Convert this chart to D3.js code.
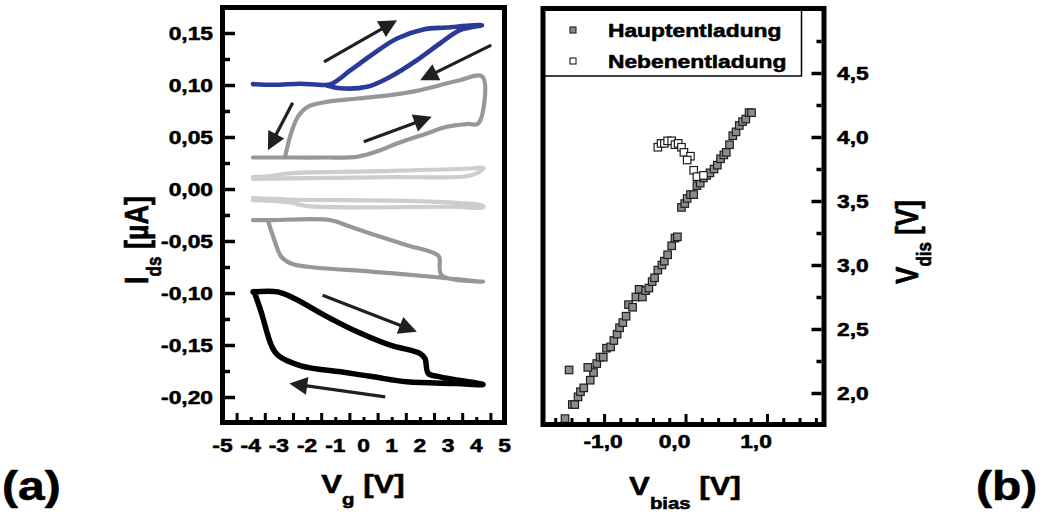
<!DOCTYPE html>
<html>
<head>
<meta charset="utf-8">
<script src="https://cdn.jsdelivr.net/npm/d3@7"></script>
<style>
  html, body { margin: 0; padding: 0; background: #fff; }
  svg { display: block; }
  text { font-family: "Liberation Sans", Arial, Helvetica, sans-serif; font-weight: bold; fill: #000;
         stroke: #000; stroke-width: 0.55px; stroke-linejoin: round; }
</style>
</head>
<body>
<svg id="fig" width="1046" height="516"></svg>
<script>
// ---------- Panel (a): drain current vs. gate voltage ----------
const gateTicks = [-5, -4, -3, -2, -1, 0, 1, 2, 3, 4, 5];
const gateTickLabels = ["-5", "-4", "-3", "-2", "-1", "0", "1", "2", "3", "4", "5"];
const gateHalfTicks = [-4.5, -3.5, -2.5, -1.5, -0.5, 0.5, 1.5, 2.5, 3.5, 4.5];
const currentTicks = [-0.20, -0.15, -0.10, -0.05, 0.00, 0.05, 0.10, 0.15];
const currentTickLabels = ["-0,20", "-0,15", "-0,10", "-0,05", "0,00", "0,05", "0,10", "0,15"];
const currentMinorTicks = [-0.175, -0.125, -0.075, -0.025, 0.025, 0.075, 0.125];

// hysteresis loops, [V_g, I_ds in µA]
const loopBlue = [[-3.92, 0.1008], [-3.16, 0.1002], [-2.22, 0.1012], [-1.6, 0.1002], [-1.16, 0.1008],
  [-0.46, 0.1142], [0.36, 0.1303], [1.19, 0.1447], [2.12, 0.1534], [2.95, 0.1553], [4.2, 0.1575],
  [3.42, 0.1527], [2.71, 0.1399], [1.89, 0.1238], [0.95, 0.1079], [0.13, 0.0983], [-0.81, 0.0968], [-1.3, 0.0995]];
const loopGrayUpper = [[-3.92, 0.0303], [-3.2, 0.0303], [-2.81, 0.0303], [-1.4, 0.0303], [-0.22, 0.0310],
  [0.6, 0.0373], [1.19, 0.0438], [2.24, 0.0534], [2.95, 0.0598], [3.7, 0.0625], [4.07, 0.0630],
  [4.22, 0.1080], [3.42, 0.1046], [2.71, 0.0998], [1.89, 0.0944], [0.95, 0.0902], [-0.22, 0.0870],
  [-1.28, 0.0838], [-1.98, 0.0790], [-2.33, 0.0694], [-2.57, 0.0534], [-2.78, 0.0310]];
const loopLightUpper = [[-3.92, 0.0098], [-2.0, 0.0104], [1.0, 0.0115], [3.78, 0.0130], [4.25, 0.0195],
  [4.25, 0.0205], [3.78, 0.0197], [1.0, 0.0175], [-2.01, 0.0159], [-2.72, 0.0149], [-3.3, 0.0125], [-3.92, 0.0117]];
const loopLightLower = [[-3.92, -0.0088], [-2.69, -0.0101], [1.54, -0.0114], [3.30, -0.0133], [4.24, -0.0162],
  [4.24, -0.0178], [3.30, -0.0171], [-1.98, -0.0165], [-2.6, -0.0130], [-3.92, -0.0107]];
const loopGrayLower = [[-3.92, -0.0300], [-3.39, -0.0300], [-1.16, -0.0300], [-0.46, -0.0364], [0.6, -0.0460],
  [1.54, -0.0540], [2.48, -0.0614], [2.68, -0.0650], [2.77, -0.0829], [4.24, -0.0892], [2.71, -0.0851],
  [0.36, -0.0796], [-1.98, -0.0748], [-2.57, -0.0716], [-2.92, -0.0650], [-3.16, -0.0492], [-3.39, -0.0300]];
const loopBlack = [[-3.92, -0.0989], [-3.04, -0.0989], [-2.45, -0.1053], [-1.28, -0.1229], [-0.22, -0.1373],
  [0.95, -0.1502], [2.01, -0.1582], [2.18, -0.1630], [2.30, -0.1774], [2.71, -0.1806], [4.24, -0.1880],
  [3.30, -0.1870], [1.54, -0.1854], [0.36, -0.1806], [-0.81, -0.1758], [-2.22, -0.1700], [-3.04, -0.1598],
  [-3.27, -0.1502], [-3.63, -0.1181], [-3.86, -0.1000]];

// sweep direction arrows, [from V_g, from I_ds, to V_g, to I_ds]
const sweepArrows = [
  [-1.40, 0.1223, 1.19, 0.1623],
  [4.53, 0.1383, 2.01, 0.1046],
  [-2.51, 0.0829, -3.39, 0.0373],
  [0.01, 0.0454, 2.42, 0.0694],
  [-1.45, -0.1021, 1.89, -0.1373],
  [0.77, -0.1998, -2.63, -0.1870]
];

// ---------- Panel (b): discharge voltage vs. bias ----------
const biasTicks = [-1, 0, 1];
const biasTickLabels = ["-1,0", "0,0", "1,0"];
const biasMinorTicks = [-1.6, -1.4, -1.2, -0.8, -0.6, -0.4, -0.2, 0.2, 0.4, 0.6, 0.8, 1.2, 1.4, 1.6];
const dischargeTicks = [2.0, 2.5, 3.0, 3.5, 4.0, 4.5];
const dischargeTickLabels = ["2,0", "2,5", "3,0", "3,5", "4,0", "4,5"];
const dischargeMinorTicks = [2.25, 2.75, 3.25, 3.75, 4.25, 4.75];

const hauptBias = [-1.48, -1.43, -1.39, -1.36, -1.32, -1.29, -1.25, -1.17, -1.13, -1.20, -1.09, -1.05, -1.01,
  -0.97, -0.92, -0.88, -0.84, -0.81, -0.77, -0.73, -0.70, -0.65, -0.61, -0.57, -0.53, -0.49, -0.45, -0.41,
  -0.38, -0.34, -0.29, -0.26, -0.22, -0.17, -0.13, -0.10, -0.05, -0.01, 0.02, 0.06, 0.10, 0.14, 0.18,
  0.22, 0.26, 0.30, 0.35, 0.39, 0.43, 0.47, 0.50, 0.54, 0.58, 0.62, 0.66, 0.70, 0.74, 0.78, 0.81];
const hauptDis = [1.80, 2.18, 1.91, 1.91, 1.97, 2.01, 2.04, 2.10, 2.16, 2.20, 2.23, 2.28, 2.28,
  2.35, 2.36, 2.41, 2.46, 2.51, 2.55, 2.60, 2.69, 2.67, 2.75, 2.81, 2.75, 2.80, 2.82, 2.87,
  2.90, 2.96, 3.00, 3.03, 3.08, 3.15, 3.21, 3.22, 3.45, 3.48, 3.52, 3.55, 3.55, 3.62, 3.64,
  3.68, 3.70, 3.72, 3.75, 3.78, 3.83, 3.86, 3.88, 3.94, 4.01, 4.04, 4.09, 4.12, 4.14, 4.19, 4.19];
const nebenBias = [-0.34, -0.30, -0.26, -0.22, -0.17, -0.13, -0.09, -0.05, -0.02, 0.06, 0.02, 0.10, 0.14, 0.22];
const nebenDis = [3.92, 3.95, 3.95, 3.97, 3.97, 3.94, 3.95, 3.92, 3.88, 3.85, 3.82, 3.74, 3.69, 3.70];
const legendLabels = ["Hauptentladung", "Nebenentladung"];

// ---------- drawing ----------
const SX = 1.2;                       // lettering is set slightly wide
const svg = d3.select("#fig");

const xa = d3.scaleLinear().domain([-5, 5]).range([222.5, 504.5]);
const ya = d3.scaleLinear().domain([-0.225, 0.175]).range([423, 7]);
const xb = d3.scaleLinear().domain([-1.75, 1.7]).range([543, 824]);
const yb = d3.scaleLinear().domain([1.75, 5.0]).range([425, 9]);

function wideText(parent, x, y, str, size, anchor) {
  return parent.append("text")
    .attr("transform", `translate(${x},${y}) scale(${SX},1)`)
    .attr("text-anchor", anchor || "start")
    .style("font-size", size + "px")
    .text(str);
}

function tickAxis(axis, tx, ty, width) {
  const g = svg.append("g").attr("transform", `translate(${tx},${ty})`).call(axis);
  g.select(".domain").remove();
  g.selectAll("line").attr("stroke", "#000").attr("stroke-width", width);
  g.selectAll("text").remove();
  return g;
}

// loops of panel (a)
const lineA = d3.line().x(d => xa(d[0])).y(d => ya(d[1])).curve(d3.curveCatmullRom.alpha(0.5));
const loops = [
  { data: loopLightUpper, color: "#cdcdcd", w: 4.2 },
  { data: loopLightLower, color: "#cdcdcd", w: 4.2 },
  { data: loopGrayUpper, color: "#979797", w: 4.2 },
  { data: loopGrayLower, color: "#979797", w: 4.2 },
  { data: loopBlue, color: "#2a3a98", w: 4.6 },
  { data: loopBlack, color: "#000000", w: 5.5 }
];
loops.forEach(l => {
  svg.append("path").attr("d", lineA(l.data))
    .attr("fill", "none").attr("stroke", l.color).attr("stroke-width", l.w)
    .attr("stroke-linejoin", "round").attr("stroke-linecap", "round");
});

// sweep arrows
sweepArrows.forEach(a => {
  const x0 = xa(a[0]), y0 = ya(a[1]), x1 = xa(a[2]), y1 = ya(a[3]);
  const len = Math.hypot(x1 - x0, y1 - y0);
  const ux = (x1 - x0) / len, uy = (y1 - y0) / len;
  const headL = 18, headW = 9;
  const bx = x1 - ux * headL, by = y1 - uy * headL;
  svg.append("line").attr("x1", x0).attr("y1", y0).attr("x2", bx + ux * 2).attr("y2", by + uy * 2)
    .attr("stroke", "#231f20").attr("stroke-width", 3.2);
  svg.append("path")
    .attr("d", `M${x1},${y1}L${bx - uy * headW},${by + ux * headW}L${bx + uy * headW},${by - ux * headW}Z`)
    .attr("fill", "#231f20");
});

// frame and ticks of panel (a)
svg.append("rect").attr("x", 222.5).attr("y", 7.5).attr("width", 282).attr("height", 415)
  .attr("fill", "none").attr("stroke", "#000").attr("stroke-width", 5);
tickAxis(d3.axisLeft(ya).tickValues(currentTicks).tickSize(-10), 225, 0, 3.5);
tickAxis(d3.axisLeft(ya).tickValues(currentMinorTicks).tickSize(-5), 225, 0, 3.5);
tickAxis(d3.axisBottom(xa).tickValues(gateHalfTicks).tickSize(-7), 0, 420, 3);
tickAxis(d3.axisBottom(xa).tickValues(gateTicks.slice(1, -1)).tickSize(-3), 0, 420, 3);

currentTicks.forEach((v, i) => wideText(svg, 213, ya(v) + 7, currentTickLabels[i], 19, "end"));
gateTicks.forEach((v, i) => wideText(svg, xa(v), 452, gateTickLabels[i], 19, "middle"));

// axis titles of panel (a)
const tg = svg.append("text").attr("transform", `translate(363,493) scale(${SX},1)`)
  .attr("text-anchor", "middle").style("font-size", "26px");
tg.append("tspan").text("V");
tg.append("tspan").attr("dy", 12).style("font-size", "17px").text("g");
tg.append("tspan").attr("dy", -12).text(" [V]");

const ti = svg.append("text").attr("transform", `translate(148,240) rotate(-90) scale(1,${SX})`)
  .attr("text-anchor", "middle").style("font-size", "27px");
ti.append("tspan").text("I");
ti.append("tspan").attr("dy", 11).style("font-size", "17px").text("ds");
ti.append("tspan").attr("dy", -11).text(" [µA]");

wideText(svg, 2, 500, "(a)", 40, "start");

// scatter of panel (b)
const SQ = 7.5;
svg.append("g").selectAll("rect").data(hauptBias.map((b, i) => [b, hauptDis[i]])).join("rect")
  .attr("x", d => xb(d[0]) - SQ / 2).attr("y", d => yb(d[1]) - SQ / 2)
  .attr("width", SQ).attr("height", SQ)
  .attr("fill", "#8c8c8c").attr("stroke", "#1e1e1e").attr("stroke-width", 1.2);
svg.append("g").selectAll("rect").data(nebenBias.map((b, i) => [b, nebenDis[i]])).join("rect")
  .attr("x", d => xb(d[0]) - SQ / 2).attr("y", d => yb(d[1]) - SQ / 2)
  .attr("width", SQ).attr("height", SQ)
  .attr("fill", "#ffffff").attr("stroke", "#1e1e1e").attr("stroke-width", 1.2);

// legend
svg.append("rect").attr("x", 543).attr("y", 8.5).attr("width", 258.5).attr("height", 67.5)
  .attr("fill", "#fff").attr("stroke", "#000").attr("stroke-width", 1.5);
const legendFill = ["#8c8c8c", "#ffffff"];
legendLabels.forEach((lab, i) => {
  const cy = 30 + i * 31;
  svg.append("rect").attr("x", 573 - 3).attr("y", cy - 3).attr("width", 6).attr("height", 6)
    .attr("fill", legendFill[i]).attr("stroke", "#1e1e1e").attr("stroke-width", 1.1);
  wideText(svg, 608, cy + 7, lab, 19, "start");
});

// frame and ticks of panel (b)
svg.append("rect").attr("x", 543).attr("y", 8.5).attr("width", 281).attr("height", 416)
  .attr("fill", "none").attr("stroke", "#000").attr("stroke-width", 5);
tickAxis(d3.axisBottom(xb).tickValues(biasTicks).tickSize(-8), 0, 422, 3);
tickAxis(d3.axisBottom(xb).tickValues(biasMinorTicks).tickSize(-4), 0, 422, 3);
tickAxis(d3.axisRight(yb).tickValues(dischargeTicks).tickSize(-10), 821.5, 0, 3.5);
tickAxis(d3.axisRight(yb).tickValues(dischargeMinorTicks).tickSize(-5), 821.5, 0, 3.5);

biasTicks.forEach((v, i) => wideText(svg, xb(v) + (v < 0 ? -1 : -11), 448, biasTickLabels[i], 19, "middle"));
dischargeTicks.forEach((v, i) => wideText(svg, 837, yb(v) + 7, dischargeTickLabels[i], 19, "start"));

// axis titles of panel (b)
const tb = svg.append("text").attr("transform", `translate(685,495) scale(${SX},1)`)
  .attr("text-anchor", "middle").style("font-size", "26px");
tb.append("tspan").text("V");
tb.append("tspan").attr("dy", 14).style("font-size", "17px").text("bias");
tb.append("tspan").attr("dy", -14).text(" [V]");

const td = svg.append("text").attr("transform", `translate(918,242) rotate(-90) scale(1,${SX})`)
  .attr("text-anchor", "middle").style("font-size", "26px");
td.append("tspan").text("V");
td.append("tspan").attr("dy", 11).style("font-size", "17px").text("dis");
td.append("tspan").attr("dy", -11).text(" [V]");

wideText(svg, 976, 500, "(b)", 40, "start");
</script>
</body>
</html>
